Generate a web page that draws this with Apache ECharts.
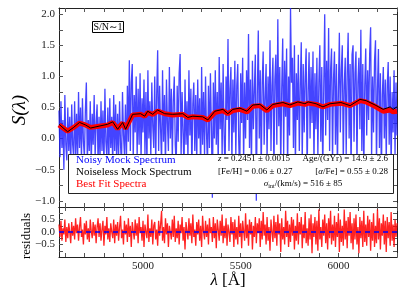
<!DOCTYPE html>
<html><head><meta charset="utf-8">
<script src="https://cdn.jsdelivr.net/npm/echarts@6/dist/echarts.min.js"></script>
<style>html,body{margin:0;padding:0;background:#fff}#c{width:407px;height:305px}</style>
</head><body><div id="c"></div>
<script>
// ---- data ----
const waveStart = 4570, waveStep = 5;   // wavelength grid of the sampled spectra (Å)
const noisyFlux = [
 0.45,-0.3,0.6,-0.15,0.3,-0.5,0.7,-0.1,-0.35,0.5,-0.2,0.35,-0.45,0.55,-0.1,-0.3,0.6,-0.25,0.4,-0.4,0.75,
 -0.15,0.5,-0.35,0.65,-0.05,-0.3,0.45,0.9,-0.4,0.3,-0.2,0.6,-0.45,0.4,-0.1,0.7,-0.3,0.25,0.55,-0.4,
 0.35,-0.35,0.6,-0.2,0.45,-0.5,0.8,-0.05,-0.3,0.5,-0.4,0.65,-0.15,0.35,-0.45,0.7,-0.2,0.55,-0.35,0.4,
 -0.3,0.6,-0.1,-0.45,0.75,0.05,-0.25,0.55,-0.4,0.85,-0.05,1.26,-0.2,0.9,1.2,-0.35,0.7,0.1,1.0,-0.3,
 0.8,-0.1,1.05,-0.35,0.65,0.1,0.95,-0.25,0.75,-0.45,1.1,0.0,0.6,-0.3,0.9,0.2,-0.15,1.0,-0.4,0.7,
 1.42,-0.2,0.85,0.15,-0.4,1.1,-0.05,0.7,-0.5,0.95,0.25,-0.2,1.15,0.0,0.8,-0.35,0.6,1.0,-0.1,-0.45,
 0.85,-0.05,1.05,1.36,-0.3,0.75,0.1,-0.5,0.95,-0.1,0.6,-0.35,1.1,0.05,0.8,-0.55,0.55,0.9,-0.2,0.7,
 -0.4,0.95,0.0,0.65,-0.6,1.15,-0.1,0.75,-0.3,1.0,0.1,-0.45,0.85,-0.15,1.05,0.2,-0.95,0.9,0.0,1.1,
 -0.1,0.75,-0.45,1.31,0.15,0.9,-0.3,1.2,0.05,-0.55,1.0,0.3,1.6,-0.2,0.8,1.15,-0.4,0.95,0.1,1.25,
 -0.3,0.85,1.2,-0.05,-0.6,1.05,0.25,1.3,-0.4,0.9,0.0,1.1,0.3,1.68,-0.15,0.95,-0.5,1.25,0.15,0.8,
 1.35,-1.0,0.7,1.74,0.0,1.1,-0.55,0.9,1.4,-0.1,0.65,1.2,-0.35,1.0,0.15,1.58,-0.2,0.85,1.3,-0.6,
 0.95,1.35,-0.1,1.92,0.2,1.15,-0.45,0.8,1.61,-0.25,1.25,0.35,1.45,-0.55,1.0,0.05,2.1,0.9,1.3,-0.15,
 1.5,-0.5,1.05,0.3,1.35,-0.2,0.85,1.55,-0.4,1.2,0.1,1.0,1.45,-0.6,0.75,1.39,0.0,1.15,0.25,1.4,
 -0.45,1.05,0.15,1.3,-0.3,0.9,1.5,-0.05,1.15,-0.55,0.8,2.0,0.05,1.25,0.3,1.78,-0.2,1.1,1.45,-0.4,
 0.95,1.4,-0.1,1.2,-0.5,0.75,1.7,0.1,1.1,1.5,-0.4,0.85,1.3,-0.25,1.05,1.7,0.0,1.2,-0.6,1.35,
 1.5,-0.05,1.05,1.4,-0.45,0.9,1.3,0.15,1.75,-0.2,1.2,-0.55,0.85,1.45,0.05,1.1,0.3,1.35,1.79,-0.3,
 1.0,0.1,1.25,1.58,-0.45,0.8,1.44,-0.15,1.05,-0.6,0.7,1.15,0.0,0.95,-0.35,0.85,1.23,-0.1,1.0,-0.5,0.75,0.1,1.1,-0.25,0.9,0.05
];
const residuals = [
 0.3,-0.2,0.45,-0.35,0.15,-0.1,0.5,-0.4,0.2,-0.25,0.35,0.0,-0.45,0.4,-0.15,0.25,-0.3,0.55,-0.05,0.3,
 -0.35,0.2,0.6,-0.2,0.1,-0.5,0.35,-0.1,0.45,-0.3,0.15,-0.4,0.5,0.05,-0.25,0.4,-0.15,0.3,-0.45,0.2,
 0.55,-0.2,0.35,-0.35,0.1,0.45,-0.55,0.25,-0.1,0.6,-0.3,0.15,-0.4,0.35,0.0,-0.25,0.5,-0.45,0.3,-0.15,
 0.4,-0.35,0.2,0.65,-0.25,0.1,-0.5,0.45,-0.1,0.3,-0.4,0.55,-0.2,0.25,-0.6,0.4,0.05,-0.3,0.5,-0.15,
 0.35,-0.45,0.6,-0.05,0.2,-0.35,0.45,-0.6,0.3,0.0,-0.25,0.7,-0.4,0.15,-0.2,0.5,-0.5,0.25,0.4,-0.3,
 0.1,-0.55,0.45,-0.15,0.3,0.85,-0.35,0.2,-0.45,0.55,-0.1,0.35,-0.6,0.25,0.0,-0.3,0.5,-0.2,0.65,-0.4,
 0.15,-0.25,0.45,-0.5,0.3,-0.05,0.6,-0.35,0.2,-0.7,0.4,0.05,-0.3,0.55,-0.15,0.35,-0.45,0.7,-0.2,0.1,
 -0.55,0.4,-0.1,0.5,-0.35,0.25,-0.6,0.65,0.0,-0.3,0.45,-0.2,0.3,-0.5,0.55,-0.05,0.2,-0.4,0.6,-0.25,
 0.35,-0.65,0.5,0.1,-0.35,0.45,-0.15,0.7,-0.45,0.25,-0.25,0.55,-0.55,0.3,0.0,-0.4,0.6,-0.1,0.4,-0.6,
 0.5,-0.3,0.2,-0.5,0.65,-0.2,0.35,-0.65,0.45,0.05,-0.35,0.75,-0.25,0.3,-0.55,0.5,-0.1,0.4,-0.7,0.25,
 -0.2,0.6,-0.45,0.35,-0.05,0.55,-0.6,0.45,-0.3,0.8,-0.15,0.3,-0.5,0.6,-0.35,0.2,-0.75,0.5,0.0,-0.4,
 0.65,-0.25,0.4,-0.55,0.7,-0.1,0.35,-0.8,0.55,-0.3,0.2,-0.5,0.85,-0.2,0.45,-0.6,0.3,-0.4,0.6,-0.15,
 0.5,-0.7,0.25,-0.35,0.75,-0.5,0.4,-0.1,0.6,-0.65,0.3,-0.25,0.8,-0.45,0.15,-0.55,0.55,-0.3,0.7,-0.85,
 0.35,-0.2,0.6,-0.5,0.45,-0.75,0.9,-0.3,0.2,-0.6,0.5,-0.15,0.7,-0.45,0.35,-0.7,0.55,-0.25,0.85,-0.5,
 0.3,-0.35,0.65,-0.6,0.4,-0.2,0.75,-0.8,0.5,-0.4,0.25,-0.55,0.9,-0.3,0.45,-0.65,0.6,-0.15,0.8,-0.45,
 0.35,-0.7,0.55,-0.3,0.7,-0.5,0.2,-0.85,0.6,-0.25,0.45,-0.6,0.85,-0.4,0.3,-0.55,0.65,-0.2,0.5,-0.75,
 0.4,-0.35,0.75,-0.6,0.25,-0.45,0.9,-0.3,0.55,-0.7,0.35,-0.15,0.7,-0.5,0.45,-0.8,0.6,-0.25,0.4,-0.55,0.8,-0.35,0.3,-0.6,0.5,-0.2,0.35
];
const smoothWave = [4570,4614,4645,4675,4705,4732,4775,4819,4845,4870,4896,4911,4947,4988,5009,5024,5050,5075,5111,5152,
 5204,5229,5255,5306,5332,5368,5409,5434,5460,5496,5532,5562,5598,5634,5665,5716,5752,5793,5829,5845,
 5886,5921,5957,6013,6060,6111,6142,6188,6229,6265,6280,6300];
const noiselessFlux = [0.23,0.11,0.18,0.26,0.22,0.17,0.2,0.23,0.27,0.15,0.26,0.15,0.39,0.40,0.36,0.44,0.39,0.46,0.40,0.39,
 0.40,0.34,0.36,0.35,0.30,0.44,0.47,0.40,0.47,0.49,0.44,0.54,0.55,0.46,0.55,0.58,0.54,0.59,0.56,0.59,
 0.56,0.51,0.56,0.58,0.53,0.63,0.61,0.54,0.47,0.51,0.47,0.51];
const bestFitFlux = [0.22,0.12,0.18,0.25,0.22,0.18,0.2,0.22,0.26,0.16,0.25,0.16,0.38,0.39,0.36,0.42,0.39,0.44,0.40,0.38,
 0.39,0.34,0.35,0.34,0.30,0.42,0.45,0.40,0.45,0.47,0.43,0.52,0.53,0.45,0.53,0.56,0.53,0.57,0.55,0.57,
 0.55,0.51,0.55,0.57,0.53,0.61,0.59,0.52,0.44,0.46,0.43,0.44];
const xTicks = [4600,4700,4800,4900,5000,5100,5200,5300,5400,5500,5600,5700,5800,5900,6000,6100,6200,6300];
const xTickLabels = [5000,5500,6000];
const yTopTicks = [-1.0,-0.75,-0.5,-0.25,0,0.25,0.5,0.75,1.0,1.25,1.5,1.75,2.0];
const yTopLabels = [-1.0,-0.5,0,0.5,1.0,1.5,2.0];
const yResTicks = [-0.75,-0.5,-0.25,0,0.25,0.5,0.75];
const yResLabels = [-0.5,0,0.5];
const legendNames = ['Noisy Mock Spectrum','Noiseless Mock Spectrum','Best Fit Spectra'];

// ---- chart ----
const SERIF = '"Liberation Serif","DejaVu Serif",serif';
const fmt = v => (v < 0 ? '\u2212' : '') + Math.abs(v).toFixed(1);
function xAx(grid, pos, labels){
  return {type:'value', gridIndex:grid, position:pos, min:4570, max:6300,
    axisLine:{show:true,onZero:false,lineStyle:{color:'#222',width:1}},
    axisTick:{show:true,inside:true,length:4,customValues:xTicks,lineStyle:{color:'#555'}},
    axisLabel:{show:labels,customValues:xTickLabels,formatter:v=>String(v),fontFamily:SERIF,fontSize:11,color:'#222',margin:4},
    splitLine:{show:false}};
}
function yAx(grid, pos, min, max, ticks, labs, labels){
  return {type:'value', gridIndex:grid, position:pos, min:min, max:max,
    axisLine:{show:true,onZero:false,lineStyle:{color:'#222',width:1}},
    axisTick:{show:true,inside:true,length:4,customValues:ticks,lineStyle:{color:'#555'}},
    axisLabel:{show:labels,customValues:labs,formatter:fmt,fontFamily:SERIF,fontSize:11,color:'#222',margin:4},
    splitLine:{show:false}};
}
const chart = echarts.init(document.getElementById('c'), null, {renderer:'canvas'});
const tx = (text, x, y, opt) => Object.assign({type:'text', x:x, y:y, z:101,
   style:Object.assign({text:text, fontFamily:SERIF, fontSize:11, fill:'#000', textVerticalAlign:'middle', textAlign:'left'}, opt||{})});
chart.setOption({
  animation:false,
  backgroundColor:'#fff',
  grid:[{left:59, top:8, width:338, height:199},{left:59, top:207, width:338, height:50}],
  xAxis:[xAx(0,'bottom',false), xAx(0,'top',false), xAx(1,'bottom',true), xAx(1,'top',false)],
  yAxis:[yAx(0,'left',-1.1,2.1,yTopTicks,yTopLabels,true), yAx(0,'right',-1.1,2.1,yTopTicks,yTopLabels,false),
         yAx(1,'left',-1,1,yResTicks,yResLabels,true), yAx(1,'right',-1,1,yResTicks,yResLabels,false)],
  series:[
    {name:legendNames[0], type:'line', xAxisIndex:0, yAxisIndex:0, showSymbol:false, z:2,
     data:noisyFlux.map((v,i)=>[waveStart+i*waveStep, v]), lineStyle:{color:'rgba(35,35,255,0.85)', width:1.3}},
    {name:legendNames[2], type:'line', xAxisIndex:0, yAxisIndex:0, showSymbol:false, z:3,
     data:bestFitFlux.map((v,i)=>[smoothWave[i], v]), lineStyle:{color:'#ff0000', width:5}},
    {name:legendNames[1], type:'line', xAxisIndex:0, yAxisIndex:0, showSymbol:false, z:4,
     data:noiselessFlux.map((v,i)=>[smoothWave[i], v]), lineStyle:{color:'#000', width:1}},
    {name:'residuals', type:'line', xAxisIndex:2, yAxisIndex:2, showSymbol:false, z:2,
     data:residuals.map((v,i)=>[waveStart+i*waveStep, v]), lineStyle:{color:'rgba(255,10,10,0.9)', width:1.3},
     markLine:{silent:true, symbol:'none', label:{show:false}, data:[{yAxis:0}],
       lineStyle:{color:'#0000ff', type:[5,4], width:1.5}}}
  ],
  graphic:[
    {type:'rect', z:100, shape:{x:92.5,y:21.5,width:31,height:11}, style:{fill:'#fff',stroke:'#000',lineWidth:1}},
    tx('S/N\u223c1', 108, 27, {fontSize:10, textAlign:'center'}),
    {type:'rect', z:100, shape:{x:68.5,y:154.5,width:325,height:39}, style:{fill:'#fff',stroke:'#222',lineWidth:1}},
    tx(legendNames[0], 76, 160.5, {fill:'#0000ff'}),
    tx(legendNames[1], 76, 172.5, {fill:'#000'}),
    tx(legendNames[2], 76, 184.5, {fill:'#ff0000'}),
    tx('{i|z} = 0.2451 \u00b1 0.0015', 218, 158.5, {fontSize:9, rich:{i:{fontStyle:'italic',fontFamily:SERIF,fontSize:9}}}),
    tx('Age/(GYr) = 14.9 \u00b1 2.6', 388, 158.5, {fontSize:9, textAlign:'right'}),
    tx('[Fe/H] = 0.06 \u00b1 0.27', 218, 171.5, {fontSize:9}),
    tx('[{i|\u03b1}/Fe] = 0.55 \u00b1 0.28', 388, 171.5, {fontSize:9, textAlign:'right', rich:{i:{fontStyle:'italic',fontFamily:SERIF,fontSize:9}}}),
    tx('{i|\u03c3}{s|int}/(km/s) = 516 \u00b1 85', 303, 183.5, {fontSize:9, textAlign:'center',
       rich:{i:{fontStyle:'italic',fontFamily:SERIF,fontSize:9}, s:{fontFamily:SERIF,fontSize:6,padding:[5,0,0,0]}}}),
    {type:'text', z:101, x:20, y:110, rotation:Math.PI/2,
     style:{text:'S(\u03bb)', fontFamily:SERIF, fontStyle:'italic', fontSize:19, fill:'#000', textAlign:'center', textVerticalAlign:'middle'}},
    {type:'text', z:101, x:27, y:236, rotation:Math.PI/2,
     style:{text:'residuals', fontFamily:SERIF, fontSize:13, fill:'#000', textAlign:'center', textVerticalAlign:'middle'}},
    {type:'text', z:101, x:228, y:281,
     style:{text:'{i|\u03bb} [\u00c5]', fontFamily:SERIF, fontSize:17, fill:'#000', textAlign:'center', textVerticalAlign:'middle',
       rich:{i:{fontStyle:'italic',fontFamily:SERIF,fontSize:17}}}}
  ]
});
</script></body></html>
